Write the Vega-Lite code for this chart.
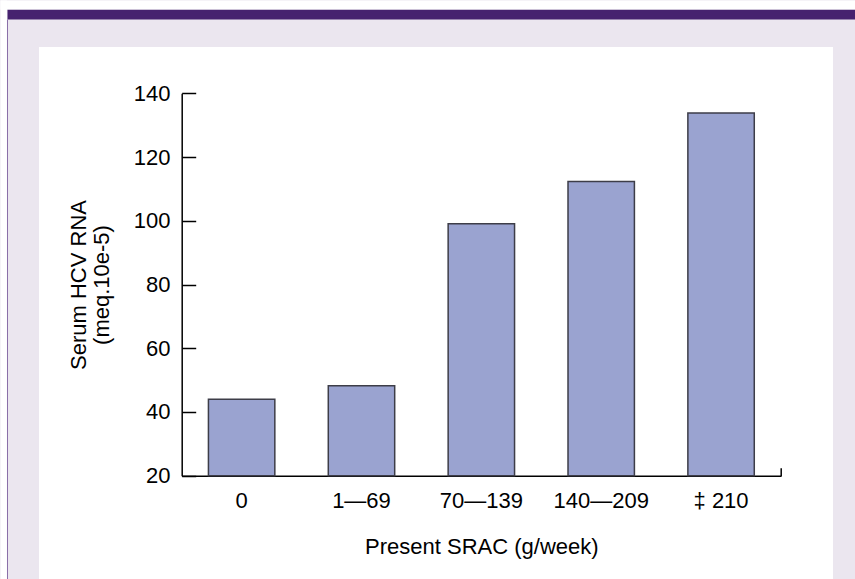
{
  "$schema": "https://vega.github.io/schema/vega-lite/v6.json",
  "width": 794,
  "height": 532,
  "autosize": {"type": "none"},
  "padding": {"left": 39, "top": 47, "right": 22, "bottom": 0},
  "background": "#ebe6ef",
  "config": {
    "view": {"fill": "white", "stroke": null},
    "font": "Liberation Sans",
    "axis": {"grid": false}
  },
  "data": {
    "values": [
      {"srac": "0", "hcv": 44.0},
      {"srac": "1—69", "hcv": 48.2},
      {"srac": "70—139", "hcv": 99.1},
      {"srac": "140—209", "hcv": 112.3},
      {"srac": "‡ 210", "hcv": 133.8}
    ]
  },
  "layer": [
    {
      "mark": {"type": "bar", "fill": "#9aa3d0", "stroke": "#3d3d48", "strokeWidth": 1.5},
      "encoding": {
        "x": {
          "field": "srac", "type": "nominal", "sort": null,
          "scale": {"range": [142.7, 742], "paddingInner": 0.446, "paddingOuter": 0.223},
          "axis": {
            "orient": "bottom", "offset": -103.3, "ticks": false,
            "domainColor": "black", "domainWidth": 1.5,
            "labelAngle": 0, "labelFontSize": 22, "labelColor": "black", "labelPadding": 15,
            "title": "Present SRAC (g/week)", "titleFontSize": 22, "titleFontWeight": "normal",
            "titleColor": "black", "titlePadding": 25
          }
        },
        "y": {
          "field": "hcv", "type": "quantitative",
          "scale": {"domain": [20, 140], "range": [428.7, 46.3], "nice": false, "zero": false},
          "axis": {
            "orient": "left", "offset": -142.7, "values": [20, 40, 60, 80, 100, 120, 140],
            "tickSize": -14, "tickColor": "black", "tickWidth": 1.5,
            "domainColor": "black", "domainWidth": 1.5,
            "labelFontSize": 22, "labelColor": "black", "labelPadding": 25.7,
            "title": ["Serum HCV RNA", "(meq.10e-5)"], "titleFontSize": 22, "titleFontWeight": "normal",
            "titleColor": "black", "titlePadding": 20, "titleLineHeight": 23
          }
        },
        "y2": {"datum": 20}
      }
    },
    {
      "mark": {"type": "point", "opacity": 0},
      "encoding": {
        "x": {
          "field": "hcv", "type": "quantitative",
          "scale": {"domain": [20, 140], "range": [-32, 816], "nice": false, "zero": false},
          "axis": {"orient": "top", "offset": 33, "domainColor": "#46226f", "domainWidth": 10,
                   "ticks": false, "labels": false, "title": null}
        },
        "y": {
          "field": "hcv", "type": "quantitative",
          "scale": {"domain": [20, 140], "range": [428.7, 420.7], "nice": false, "zero": false},
          "axis": {"orient": "right", "offset": -52.3, "domainColor": "black", "domainWidth": 1.5,
                   "ticks": false, "labels": false, "title": null}
        }
      }
    },
    {
      "mark": {"type": "point", "opacity": 0},
      "encoding": {
        "x": {
          "field": "hcv", "type": "quantitative",
          "scale": {"domain": [20, 140], "range": [-39, 816], "nice": false, "zero": false},
          "axis": {"orient": "top", "offset": 42.5, "domainColor": "white", "domainWidth": 9,
                   "ticks": false, "labels": false, "title": null}
        },
        "y": {
          "field": "hcv", "type": "quantitative",
          "scale": {"domain": [20, 140], "range": [532, -28], "nice": false, "zero": false},
          "axis": {"orient": "left", "offset": 32, "domainColor": "#8a6fa8", "domainWidth": 1,
                   "ticks": false, "labels": false, "title": null}
        }
      }
    },
    {
      "mark": {"type": "point", "opacity": 0},
      "encoding": {
        "y": {
          "field": "hcv", "type": "quantitative",
          "scale": {"domain": [20, 140], "range": [532, -47], "nice": false, "zero": false},
          "axis": {"orient": "left", "offset": 35.8, "domainColor": "white", "domainWidth": 6.4,
                   "ticks": false, "labels": false, "title": null}
        }
      }
    }
  ],
  "resolve": {"scale": {"x": "independent", "y": "independent"}}
}
